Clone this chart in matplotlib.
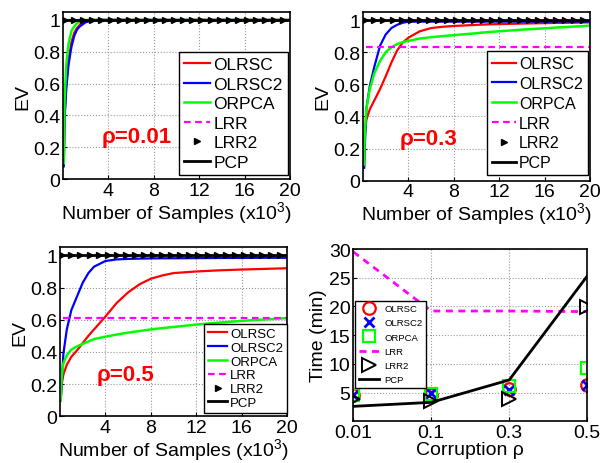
import numpy as np
import matplotlib
matplotlib.use('Agg')
import matplotlib.pyplot as plt

plt.rcParams['font.family'] = ['Liberation Sans', 'DejaVu Sans']
plt.rcParams['mathtext.default'] = 'regular'

# --- EV curves (x in thousands of samples) ---
# rho = 0.01
x1 = [0.08, 0.15, 0.3, 0.5, 0.75, 1.0, 1.25, 1.5, 2.0, 2.5, 3.0, 4.0, 8.0, 12.0, 16.0, 20.0]
olrsc_1 = [0.1, 0.4, 0.6, 0.75, 0.86, 0.92, 0.95, 0.97, 0.99, 1.0, 1.0, 1.0, 1.0, 1.0, 1.0, 1.0]
olrsc2_1 = [0.08, 0.38, 0.57, 0.72, 0.83, 0.9, 0.94, 0.96, 0.985, 0.995, 1.0, 1.0, 1.0, 1.0, 1.0, 1.0]
orpca_1 = [0.1, 0.5, 0.72, 0.85, 0.93, 0.96, 0.98, 0.99, 1.0, 1.0, 1.0, 1.0, 1.0, 1.0, 1.0, 1.0]
lrr_1 = 1.0

# rho = 0.3
x2 = [0.1, 0.15, 0.3, 0.6, 1.0, 1.5, 2.0, 2.5, 3.0, 3.5, 4.0, 5.0, 6.0, 7.0, 8.0, 10.0, 11.0, 14.0, 17.0, 20.0]
olrsc_2 = [0.09, 0.28, 0.38, 0.445, 0.5, 0.57, 0.65, 0.735, 0.81, 0.86, 0.89, 0.93, 0.95, 0.958, 0.963,
           0.97, 0.973, 0.978, 0.982, 0.985]
olrsc2_2 = [0.08, 0.2, 0.45, 0.59, 0.71, 0.84, 0.91, 0.95, 0.97, 0.983, 0.99, 0.99, 0.99, 0.99, 0.99,
            0.99, 0.99, 0.99, 0.99, 0.99]
orpca_2 = [0.1, 0.28, 0.45, 0.57, 0.67, 0.745, 0.8, 0.83, 0.85, 0.862, 0.87, 0.885, 0.893, 0.9, 0.906,
           0.918, 0.925, 0.94, 0.953, 0.965]
lrr_2 = 0.83

# rho = 0.5
x3 = [0.06, 0.15, 0.3, 0.6, 1.0, 1.5, 2.0, 2.5, 3.0, 4.0, 5.0, 6.0, 7.0, 8.0, 9.0, 10.0, 12.0, 14.0, 16.0, 18.0, 20.0]
olrsc_3 = [0.1, 0.2, 0.26, 0.32, 0.37, 0.41, 0.455, 0.5, 0.54, 0.62, 0.705, 0.77, 0.82, 0.855, 0.875,
           0.89, 0.9, 0.907, 0.912, 0.916, 0.92]
olrsc2_3 = [0.1, 0.2, 0.39, 0.54, 0.66, 0.745, 0.83, 0.89, 0.93, 0.965, 0.975, 0.978, 0.98, 0.981, 0.982,
            0.982, 0.983, 0.984, 0.984, 0.985, 0.985]
orpca_3 = [0.1, 0.24, 0.33, 0.38, 0.415, 0.435, 0.45, 0.465, 0.48, 0.495, 0.508, 0.52, 0.53, 0.54, 0.548,
           0.555, 0.57, 0.582, 0.593, 0.602, 0.61]
lrr_3 = 0.61

# LRR2 / PCP sit at EV = 1
lrr2_x = np.arange(0.2, 20.01, 0.8)
pcp_ev = 1.0

# --- running time ---
rho_labels = ['0.01', '0.1', '0.3', '0.5']
t_olrsc = [4.5, 4.6, 5.6, 6.3]
t_olrsc2 = [4.5, 4.9, 5.4, 6.3]
t_orpca = [4.5, 4.8, 6.2, 9.3]
t_lrr = [29.5, 19.2, 19.2, 19.1]
t_lrr2 = [3.9, 3.6, 3.8, 19.9]
t_pcp = [2.6, 3.3, 7.2, 25.3]

RED, BLUE, GREEN, MAG = '#ff0000', '#0000ff', '#00ff00', '#ff00ff'

fig = plt.figure(figsize=(6.03, 4.64), dpi=100)
ax1 = fig.add_axes([0.1043, 0.612, 0.3766, 0.36])
ax2 = fig.add_axes([0.602, 0.6084, 0.3765, 0.3636])
ax3 = fig.add_axes([0.0995, 0.1006, 0.3765, 0.3642])
ax4 = fig.add_axes([0.5859, 0.0899, 0.388, 0.3713])


def ev_panel(ax, x, r, b, g, lrr, rho, leg_fs, leg_sp, leg_anchor, txt_xy):
    ax.plot(x, r, color=RED, lw=1.6, label='OLRSC')
    ax.plot(x, b, color=BLUE, lw=1.6, label='OLRSC2')
    ax.plot(x, g, color=GREEN, lw=1.8, label='ORPCA')
    ax.plot([0.3, 20], [lrr, lrr], color=MAG, lw=1.6, ls=(0, (3, 2)), label='LRR')
    ax.plot(lrr2_x, np.full(len(lrr2_x), pcp_ev), ls='none', marker='>',
            ms=5, color='black', label='LRR2')
    ax.plot([0, 20], [pcp_ev, pcp_ev], color='black', lw=2, label='PCP')
    ax.set_xlim(0, 20)
    ax.set_ylim(0, 1.05)
    ax.set_xticks([4, 8, 12, 16, 20])
    ax.set_yticks([0, 0.2, 0.4, 0.6, 0.8, 1])
    ax.set_yticklabels(['0', '0.2', '0.4', '0.6', '0.8', '1'])
    ax.grid(True, ls=':', color='#999999', lw=0.8)
    ax.tick_params(labelsize=14, direction='in', length=3, pad=2)
    ax.set_ylabel('EV', fontsize=14, labelpad=1)
    ax.set_xlabel('Number of Samples (x10$^3$)', fontsize=14, labelpad=0)
    for s in ax.spines.values():
        s.set_linewidth(1.2)
    leg = ax.legend(loc='lower right', bbox_to_anchor=leg_anchor, fontsize=leg_fs,
                    fancybox=False, framealpha=1, edgecolor='black',
                    handlelength=1.5, handletextpad=0.2, borderaxespad=0,
                    labelspacing=leg_sp, borderpad=0.3)
    leg.get_frame().set_linewidth(1.0)
    ax.text(txt_xy[0], txt_xy[1], '\u03c1=' + rho, color=RED, fontsize=16,
            fontweight='bold', va='center')


ev_panel(ax1, x1, olrsc_1, olrsc2_1, orpca_1, lrr_1, '0.01', 12.5, 0.25, (0.992, 0.024), (3.4, 0.27))
ev_panel(ax2, x2, olrsc_2, olrsc2_2, orpca_2, lrr_2, '0.3', 11.5, 0.3, (0.99, 0.034), (3.2, 0.26))
ev_panel(ax3, x3, olrsc_3, olrsc2_3, orpca_3, lrr_3, '0.5', 9.5, 0.12, (1.0, 0.02), (3.2, 0.26))

# time panel
pos = np.arange(1, len(rho_labels) + 1)
ax4.plot(pos, t_olrsc, ls='none', marker='o', ms=9, mfc='none', mec=RED, mew=1.6, label='OLRSC')
ax4.plot(pos, t_olrsc2, ls='none', marker='x', ms=7, color=BLUE, mew=2, label='OLRSC2')
ax4.plot(pos, t_orpca, ls='none', marker='s', ms=8, mfc='none', mec=GREEN, mew=1.6, label='ORPCA')
ax4.plot(pos, t_lrr, color=MAG, lw=2, ls=(0, (2.5, 2)), label='LRR')
ax4.plot(pos, t_lrr2, ls='none', marker='>', ms=10, mfc='none', mec='black', mew=1.4, label='LRR2')
ax4.plot(pos, t_pcp, color='black', lw=2, label='PCP')
ax4.set_xlim(1, 4)
ax4.set_ylim(0, 30)
ax4.set_xticks(pos)
ax4.set_xticklabels(rho_labels)
ax4.set_yticks([5, 10, 15, 20, 25, 30])
ax4.grid(True, ls=':', color='#999999', lw=0.8)
ax4.tick_params(labelsize=14, direction='in', length=3, pad=2)
ax4.set_ylabel('Time (min)', fontsize=14, labelpad=1)
ax4.set_xlabel('Corruption \u03c1', fontsize=14, labelpad=0)
for s in ax4.spines.values():
    s.set_linewidth(1.2)
leg4 = ax4.legend(loc='lower left', bbox_to_anchor=(0.007, 0.193), fontsize=6.8,
                  fancybox=False, framealpha=1, edgecolor='black',
                  handlelength=2.2, handletextpad=0.5, borderaxespad=0,
                  labelspacing=0.55, borderpad=0.4)
leg4.get_frame().set_linewidth(1.0)

fig.savefig('out.png', dpi=100)
